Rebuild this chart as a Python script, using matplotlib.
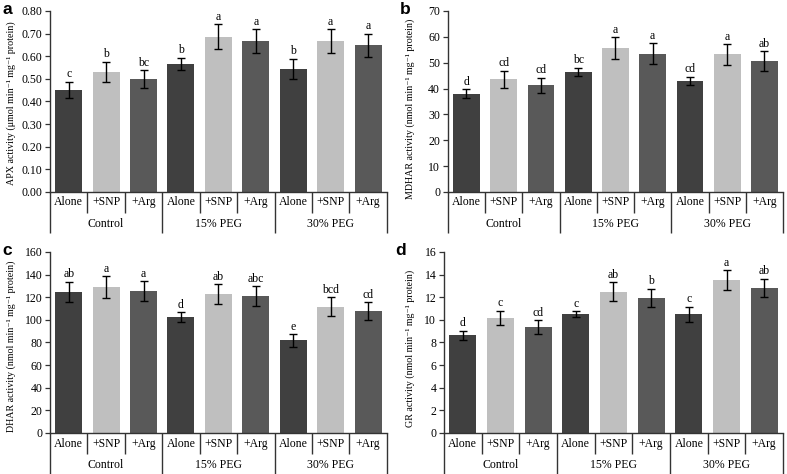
import numpy as np
import matplotlib
matplotlib.use("Agg")
import matplotlib.pyplot as plt

plt.rcParams['font.family'] = ['Liberation Serif', 'DejaVu Serif']

GROUPS = ["Control", "15% PEG", "30% PEG"]
TREATMENTS = ["Alone", "+SNP", "+Arg"]

# APX
apx_mean = [0.452, 0.532, 0.498, 0.566, 0.686, 0.666, 0.544, 0.666, 0.648]
apx_err = [0.036, 0.044, 0.040, 0.028, 0.056, 0.054, 0.044, 0.054, 0.052]
apx_letters = ["c", "b", "bc", "b", "a", "a", "b", "a", "a"]

# MDHAR
mdhar_mean = [38.0, 43.6, 41.2, 46.5, 55.6, 53.4, 43.0, 53.2, 50.7]
mdhar_err = [1.8, 3.3, 3.0, 1.6, 4.2, 4.0, 1.5, 4.0, 3.8]
mdhar_letters = ["d", "cd", "cd", "bc", "a", "a", "cd", "a", "ab"]

# DHAR
dhar_mean = [124.5, 129.0, 125.3, 102.7, 122.8, 121.0, 81.8, 111.6, 107.6]
dhar_err = [9.0, 9.5, 8.8, 4.2, 8.6, 8.5, 5.6, 8.2, 7.8]
dhar_letters = ["ab", "a", "a", "d", "ab", "abc", "e", "bcd", "cd"]

# GR
gr_mean = [8.65, 10.15, 9.35, 10.5, 12.5, 11.95, 10.48, 13.5, 12.82]
gr_err = [0.40, 0.65, 0.60, 0.28, 0.82, 0.78, 0.68, 0.88, 0.82]
gr_letters = ["d", "c", "cd", "c", "ab", "b", "c", "a", "ab"]

COLORS = ["#404040", "#bfbfbf", "#595959"]
LINE = "#333333"


def draw_panel(fig, rect, mean, err, letters, ymax, ystep, fmt, ylabel, tag,
               label_x=-0.115, label_y=0.5):
    ax = fig.add_axes(rect)
    x = np.arange(len(mean))
    cols = [COLORS[i % 3] for i in x]
    ax.bar(x, mean, width=0.72, color=cols, zorder=2)
    ax.errorbar(x, mean, yerr=err, fmt="none", ecolor="black",
                elinewidth=1.0, capsize=3, capthick=1.0, zorder=3)
    for xi, m, e, l in zip(x, mean, err, letters):
        ax.text(xi, m + e + ymax * 0.008, l, ha="center", va="bottom", fontsize=8.5)

    ax.set_xlim(-0.5, len(mean) - 0.5)
    ax.set_ylim(0, ymax)
    ticks = np.arange(0, ymax + ystep / 2, ystep)
    ax.set_yticks(ticks)
    ax.set_yticklabels([fmt.format(v) for v in ticks])
    ax.tick_params(axis="y", labelsize=8.5, length=3.5, width=0.9, color=LINE, pad=2)
    ax.set_xticks([])
    for s in ["top", "right"]:
        ax.spines[s].set_visible(False)
    for s in ["left", "bottom"]:
        ax.spines[s].set_color(LINE)
        ax.spines[s].set_linewidth(1.0)
    ax.text(label_x, label_y, ylabel, transform=ax.transAxes, rotation=90,
            ha="center", va="center", fontsize=7.2)

    # category table below the axis
    trans = ax.get_xaxis_transform()
    sub_y, grp_y = -0.115, -0.225
    for b in np.arange(-0.5, len(mean), 1.0):
        k = int(b + 0.5)
        bottom = grp_y if k % 3 == 0 else sub_y
        ax.plot([b, b], [0, bottom], transform=trans, color=LINE, lw=1.0,
                clip_on=False, solid_capstyle="butt")
    for xi in x:
        ax.text(xi, -0.058, TREATMENTS[xi % 3], transform=trans, ha="center",
                va="center", fontsize=8.5)
    for g, name in enumerate(GROUPS):
        ax.text(3 * g + 1, -0.175, name, transform=trans, ha="center",
                va="center", fontsize=8.5)

    ax.text(-0.142, 1.048, tag, transform=ax.transAxes, fontsize=12.5,
            fontweight="bold", family="Liberation Sans", ha="left", va="top")
    return ax


fig = plt.figure(figsize=(7.87, 4.74), dpi=100)

draw_panel(fig, [0.0635, 0.595, 0.428, 0.382], apx_mean, apx_err, apx_letters,
           0.80, 0.10, "{:.2f}",
           "APX activity (μmol min⁻¹ mg⁻¹ protein)", "a", -0.116, 0.49)
draw_panel(fig, [0.569, 0.595, 0.426, 0.382], mdhar_mean, mdhar_err, mdhar_letters,
           70, 10, "{:.0f}",
           "MDHAR activity (nmol min⁻¹ mg⁻¹ protein)", "b", -0.113, 0.46)
draw_panel(fig, [0.0635, 0.0865, 0.428, 0.382], dhar_mean, dhar_err, dhar_letters,
           160, 20, "{:.0f}",
           "DHAR activity (nmol min⁻¹ mg⁻¹ protein)", "c", -0.116, 0.48)
draw_panel(fig, [0.564, 0.0865, 0.431, 0.382], gr_mean, gr_err, gr_letters,
           16, 2, "{:.0f}",
           "GR activity (nmol min⁻¹ mg⁻¹ protein)", "d", -0.1, 0.47)

fig.savefig("out.png", dpi=100)
